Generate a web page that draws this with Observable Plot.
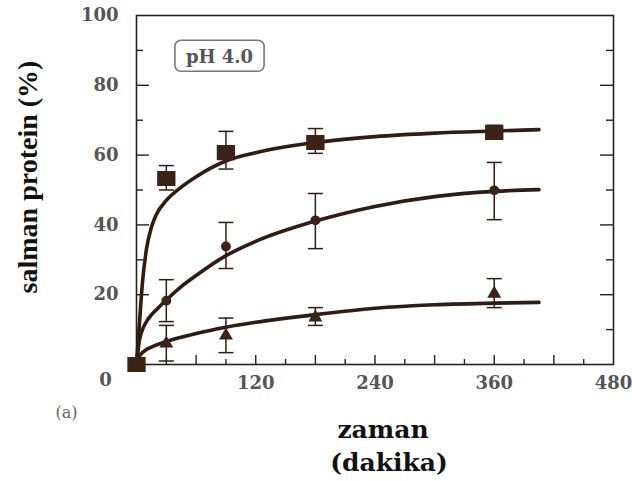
<!DOCTYPE html>
<html><head><meta charset="utf-8">
<script src="https://cdn.jsdelivr.net/npm/d3@7"></script>
<script src="https://cdn.jsdelivr.net/npm/@observablehq/plot@0.6"></script>
<style>
html,body{margin:0;padding:0;background:#fff;}
</style>
</head><body><div id="chart"></div>
<script>
// ---- data ----
const times = [0, 30, 90, 180, 360];
const squareVals = [0, 53.3, 60.7, 63.6, 66.5];
const squareLo   = [0, 50.0, 56.0, 60.5, 64.8];
const squareHi   = [0, 57.0, 66.8, 67.6, 68.5];
const circleVals = [0, 18.3, 33.8, 41.3, 49.9];
const circleLo   = [0, 12.3, 27.5, 33.2, 41.5];
const circleHi   = [0, 24.3, 40.7, 49.0, 57.9];
const triangleVals = [0, 6.0, 8.3, 13.5, 20.3];
const triangleLo   = [0, 1.0, 3.4, 11.2, 16.3];
const triangleHi   = [0, 11.2, 13.3, 16.3, 24.6];

// fitted curves
const curveX        = [0, 3, 6, 10, 15, 20, 30, 45, 60, 90, 120, 180, 240, 300, 360, 405];
const squareCurve   = [0, 12, 23.5, 33, 39.3, 43, 47, 50.8, 53.8, 58.3, 60.7, 63.6, 65.3, 66.3, 66.9, 67.3];
const circleCurve   = [0, 7, 10, 12.3, 14.2, 15.7, 18.5, 22.3, 25.5, 31.2, 35.3, 41.1, 45.3, 48.1, 49.6, 50.1];
const triangleCurve = [0, 2.4, 3.4, 4.3, 5.0, 5.6, 6.6, 7.8, 8.9, 10.7, 12.1, 14.3, 16.1, 17.1, 17.6, 17.8];

const xLabelTicks = [120, 240, 360, 480];
const xMajorTicks = [60, 120, 180, 240, 300, 360, 420];
const xMinorTicks = [30, 90, 150, 210, 270, 330, 390, 450];
const yLabelTicks = [20, 40, 60, 80, 100];
const yMajorTicks = [20, 40, 60, 80];
const yMinorTicks = [10, 30, 50, 70, 90];

const yTitle = "salman protein (%)";
const xTitle1 = "zaman";
const xTitle2 = "(dakika)";
const panelTag = "(a)";
const phLabel = "pH 4.0";

// ---- build tables ----
const mk = (vals, lo, hi, s) => times.map((t, i) => ({t, v: vals[i], lo: lo[i], hi: hi[i], s}));
const squares = mk(squareVals, squareLo, squareHi, "sq");
const circles = mk(circleVals, circleLo, circleHi, "ci");
const triangles = mk(triangleVals, triangleLo, triangleHi, "tr");
const allPts = [...triangles, ...circles, ...squares].filter(d => d.t > 0);
const curves = [
  ...curveX.map((x, i) => ({x, y: squareCurve[i], s: "sq"})),
  ...curveX.map((x, i) => ({x, y: circleCurve[i], s: "ci"})),
  ...curveX.map((x, i) => ({x, y: triangleCurve[i], s: "tr"}))
];

// ---- layout ----
const W = 632, H = 481, mL = 136, mR = 19, mT = 15, mB = 117;
const fw = W - mL - mR, fh = H - mT - mB;
const serif = "'DejaVu Serif', serif";
const ink = "#2f1c13";
const marker = "#3b2317";
const axisInk = "#222";
const labelInk = "#555";

const rectSym = {draw(ctx, size) { const r = Math.sqrt(size / Math.PI); const w = r * 1.05, h = r * 0.85; ctx.rect(-w, -h, 2 * w, 2 * h); }};
const capSym = {draw(ctx, size) { const r = Math.sqrt(size / Math.PI); ctx.moveTo(-r, 0); ctx.lineTo(r, 0); }};

const txt = {textAnchor: "middle", lineAnchor: "middle"};

const chart = Plot.plot({
  width: W, height: H,
  marginLeft: mL, marginRight: mR, marginTop: mT, marginBottom: mB,
  style: {background: "#fff", fontFamily: serif, overflow: "visible"},
  x: {domain: [0, 480]},
  y: {domain: [0, 100]},
  marks: [
    Plot.frame({stroke: axisInk, strokeWidth: 1.6}),
    Plot.tickX(xMajorTicks, {x: d => d, insetTop: fh - 9, stroke: axisInk, strokeWidth: 1.4}),
    Plot.tickX(xMinorTicks, {x: d => d, insetTop: fh - 5, stroke: axisInk, strokeWidth: 1.4}),
    Plot.tickY(yMajorTicks, {y: d => d, insetRight: fw - 13, stroke: axisInk, strokeWidth: 1.4}),
    Plot.tickY(yMinorTicks, {y: d => d, insetRight: fw - 7, stroke: axisInk, strokeWidth: 1.4}),
    Plot.tickY(yMajorTicks, {y: d => d, insetLeft: fw - 13, stroke: axisInk, strokeWidth: 1.4}),
    Plot.tickY(yMinorTicks, {y: d => d, insetLeft: fw - 7, stroke: axisInk, strokeWidth: 1.4}),
    Plot.axisY(yLabelTicks, {tickSize: 0, tickPadding: 18, fontSize: 18, fontWeight: "bold", fill: labelInk, label: null}),
    Plot.axisX(xLabelTicks, {tickSize: 0, tickPadding: 12, fontSize: 18, fontWeight: "bold", fill: labelInk, label: null}),
    Plot.text([0], {x: d => d, y: d => d, text: d => String(d), dx: -31, dy: 16, fontSize: 18, fontWeight: "bold", fill: labelInk}),

    // curves
    Plot.line(curves, {x: "x", y: "y", z: "s", curve: "monotone-x", stroke: ink, strokeWidth: 3.6, strokeLinecap: "round"}),

    // error bars
    Plot.ruleX(allPts, {x: "t", y1: "lo", y2: "hi", stroke: ink, strokeWidth: 1.5}),
    Plot.dot(allPts, {x: "t", y: "lo", symbol: capSym, r: 7.5, fill: "none", stroke: ink, strokeWidth: 1.5}),
    Plot.dot(allPts, {x: "t", y: "hi", symbol: capSym, r: 7.5, fill: "none", stroke: ink, strokeWidth: 1.5}),

    // markers
    Plot.dot(triangles.filter(d => d.t > 0), {x: "t", y: "v", symbol: "triangle", r: 4.2, fill: marker, stroke: marker}),
    Plot.dot(circles.filter(d => d.t > 0), {x: "t", y: "v", symbol: "circle", r: 4.2, fill: marker, stroke: marker}),
    Plot.dot(squares, {x: "t", y: "v", symbol: rectSym, r: 8, fill: marker, stroke: marker}),

    // titles
    Plot.text([yTitle], {...txt, frameAnchor: "left", rotate: -90, dx: -108, dy: -13, fontSize: 28, fontWeight: "bold", fontFamily: "'Liberation Serif', serif", fill: "#111"}),
    Plot.text([xTitle1], {...txt, frameAnchor: "bottom", dx: 8, dy: 65, fontSize: 25, fontWeight: "bold", fill: "#111"}),
    Plot.text([xTitle2], {...txt, frameAnchor: "bottom", dx: 14, dy: 98, fontSize: 25, fontWeight: "bold", fill: "#111"}),
    Plot.text([panelTag], {...txt, frameAnchor: "bottom-left", dx: -70, dy: 48, fontSize: 16, fill: "#666"}),
    Plot.text([phLabel], {...txt, frameAnchor: "top-left", dx: 83, dy: 42, fontSize: 18, fontWeight: "bold", fill: labelInk})
  ]
});
document.getElementById("chart").appendChild(chart);

// rounded box around the pH label
const phText = Array.from(chart.querySelectorAll("text")).find(t => t.textContent === phLabel);
if (phText) {
  const b = phText.getBBox();
  const g = phText.parentNode;
  const rect = document.createElementNS("http://www.w3.org/2000/svg", "rect");
  rect.setAttribute("x", b.x - 11);
  rect.setAttribute("y", b.y - 6);
  rect.setAttribute("width", b.width + 22);
  rect.setAttribute("height", b.height + 10);
  rect.setAttribute("rx", 6);
  rect.setAttribute("fill", "none");
  rect.setAttribute("stroke", "#777");
  rect.setAttribute("stroke-width", 1.6);
  if (phText.getAttribute("transform")) rect.setAttribute("transform", phText.getAttribute("transform"));
  g.insertBefore(rect, phText);
}
</script></body></html>
